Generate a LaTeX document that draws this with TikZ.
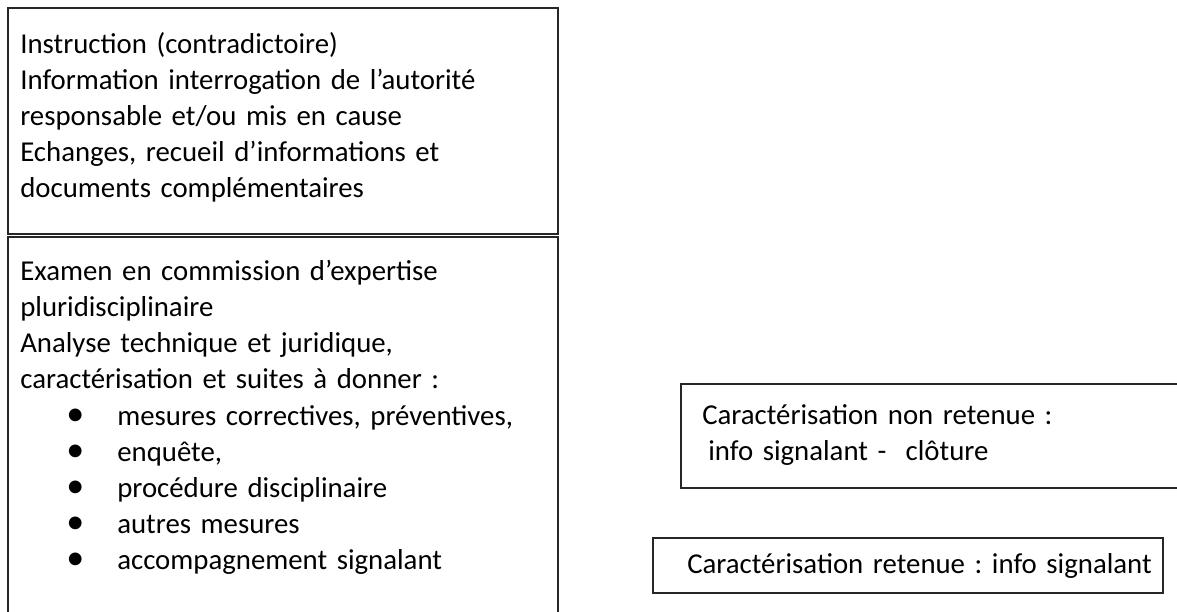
\documentclass[tikz,border=0pt]{standalone}
\usepackage{fontspec}
\usepackage{graphicx}
\setmainfont{Carlito}
\usetikzlibrary{positioning}
\newcommand{\puce}[1]{\hspace*{46pt}\makebox[51pt][l]{\raisebox{-0.5pt}{\scalebox{1.25}{\textbullet}}}#1}
\begin{document}
\frenchspacing
\begin{tikzpicture}[x=1pt,y=1pt,semithick]
  \tikzstyle{frame}=[draw=black!85, line width=1.3pt, rectangle, inner sep=0pt, outer sep=0pt, anchor=north west]
  \tikzstyle{txt}=[anchor=base west, inner sep=0pt, align=left, text width=530pt, font=\fontsize{28.8pt}{36pt}\selectfont\frenchspacing]
  \useasboundingbox (0,0) rectangle (1177,-612);
  \clip (0,0) rectangle (1177,-612);
  % cadres
  \node[frame, minimum width=550pt, minimum height=226pt] (instr) at (8,-8) {};
  \node[frame, minimum width=550pt, minimum height=400pt] (examen) at (8,-237) {};
  \node[frame, minimum width=520pt, minimum height=104pt] (nonret) at (681,-384) {};
  \node[frame, minimum width=510pt, minimum height=55pt] (ret) at (653,-538) {};
  % textes
  \node[txt] (instrtxt) at ([xshift=12pt,yshift=-46pt]instr.north west)
    {Instruction (contradictoire)\\
     Information interrogation de l’autorité\\
     responsable et/ou mis en cause\\
     Echanges, recueil d’informations et\\
     documents complémentaires};
  \node[txt] (examentxt) at ([xshift=12pt,yshift=-43pt]examen.north west)
    {Examen en commission d’expertise\\
     pluridisciplinaire\\
     Analyse technique et juridique,\\
     caractérisation et suites à donner :\\[1pt]
     \puce{mesures correctives, préventives,}\\
     \puce{enquête,}\\
     \puce{procédure disciplinaire}\\
     \puce{autres mesures}\\
     \puce{accompagnement signalant}};
  \node[txt, text width=480pt] (nonrettxt) at ([xshift=21pt,yshift=-40pt]nonret.north west)
    {Caractérisation non retenue :\\
     \hspace*{6pt}info signalant -\ \ clôture};
  \node[txt, text width=480pt] (rettxt) at ([xshift=34pt,yshift=-35pt]ret.north west)
    {Caractérisation retenue : info signalant};
\end{tikzpicture}
\end{document}
